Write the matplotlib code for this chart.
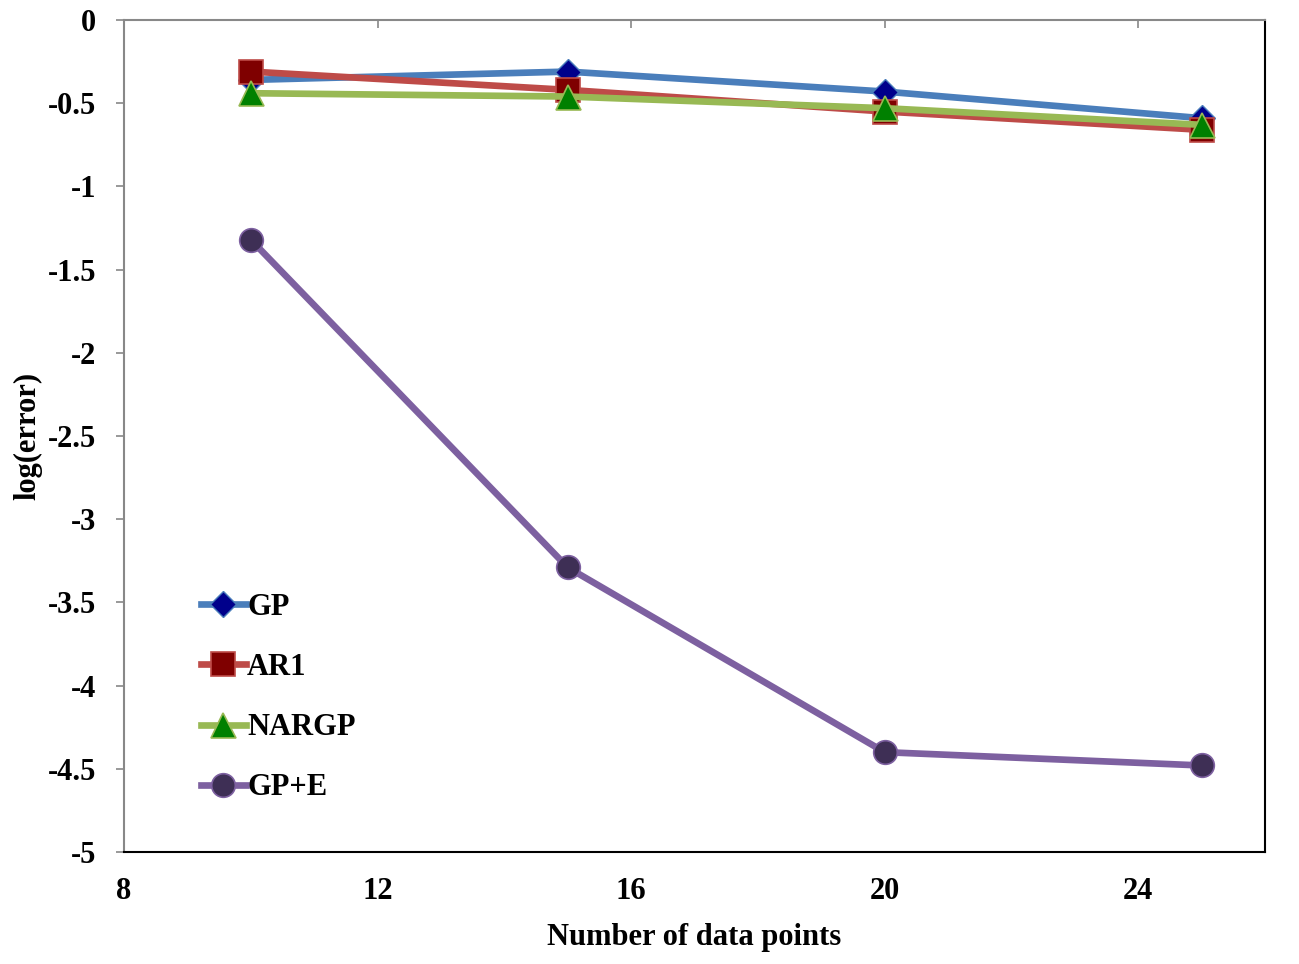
import matplotlib
matplotlib.use("Agg")
import matplotlib.pyplot as plt

x_points = [10, 15, 20, 25]
gp = [-0.36, -0.31, -0.43, -0.59]
ar1 = [-0.31, -0.42, -0.55, -0.66]
nargp = [-0.44, -0.46, -0.53, -0.63]
gpe = [-1.32, -3.29, -4.40, -4.48]

x_ticks = [8, 12, 16, 20, 24]
y_ticks = [0, -0.5, -1, -1.5, -2, -2.5, -3, -3.5, -4, -4.5, -5]
y_tick_labels = ["0", "-0.5", "-1", "-1.5", "-2", "-2.5", "-3", "-3.5", "-4", "-4.5", "-5"]

plt.rcParams['font.family'] = ['Liberation Serif', 'DejaVu Serif']
plt.rcParams['font.weight'] = 'bold'

fig = plt.figure(figsize=(12.99, 9.64), dpi=100)
ax = fig.add_axes([124/1299, 1-852/964, (1265-124)/1299, (852-20)/964])

lw = 4.8
fs = 22
ax.plot(x_points, gp, color='#4A7EBB', lw=lw, marker='D', markersize=13,
        markerfacecolor='#00008B', markeredgecolor='#4A7EBB', markeredgewidth=1, label='GP', zorder=3)
ax.plot(x_points, ar1, color='#BE4B48', lw=lw, marker='s', markersize=17,
        markerfacecolor='#7F0000', markeredgecolor='#BE4B48', markeredgewidth=1.2, label='AR1', zorder=4)
ax.plot(x_points, nargp, color='#98B954', lw=lw, marker='^', markersize=18,
        markerfacecolor='#008000', markeredgecolor='#98B954', markeredgewidth=1.2, label='NARGP', zorder=5)
ax.plot(x_points, gpe, color='#7D60A0', lw=lw, marker='o', markersize=17,
        markerfacecolor='#3E2F55', markeredgecolor='#7D60A0', markeredgewidth=1.2, label='GP+E', zorder=6)

ax.set_xlim(8, 26)
ax.set_ylim(-5, 0)
ax.set_xticks(x_ticks)
ax.set_yticks(y_ticks)
ax.set_yticklabels(y_tick_labels)

for side in ['left', 'top']:
    ax.spines[side].set_color('#888888')
    ax.spines[side].set_linewidth(1.5)
for side in ['right', 'bottom']:
    ax.spines[side].set_color('black')
    ax.spines[side].set_linewidth(1.5)

ax.tick_params(axis='y', direction='out', length=6, width=1.2, color='#888888',
               labelsize=fs, pad=14)
ax.tick_params(axis='x', direction='in', length=6, width=1.2, color='#888888',
               top=True, bottom=False, labeltop=False, labelbottom=True, labelsize=fs, pad=18)
for lbl in ax.get_xticklabels() + ax.get_yticklabels():
    lbl.set_fontweight('bold')

ax.set_xlabel('Number of data points', fontsize=fs, fontweight='bold', labelpad=12)
ax.set_ylabel('log(error)', fontsize=fs, fontweight='bold', labelpad=4)

leg = ax.legend(loc='upper left', bbox_to_anchor=(0.057, 0.326), frameon=False,
                fontsize=fs, handlelength=1.45, handletextpad=0.05, labelspacing=1.02,
                borderaxespad=0)
for t in leg.get_texts():
    t.set_fontweight('bold')

fig.savefig('out.png', dpi=100)
